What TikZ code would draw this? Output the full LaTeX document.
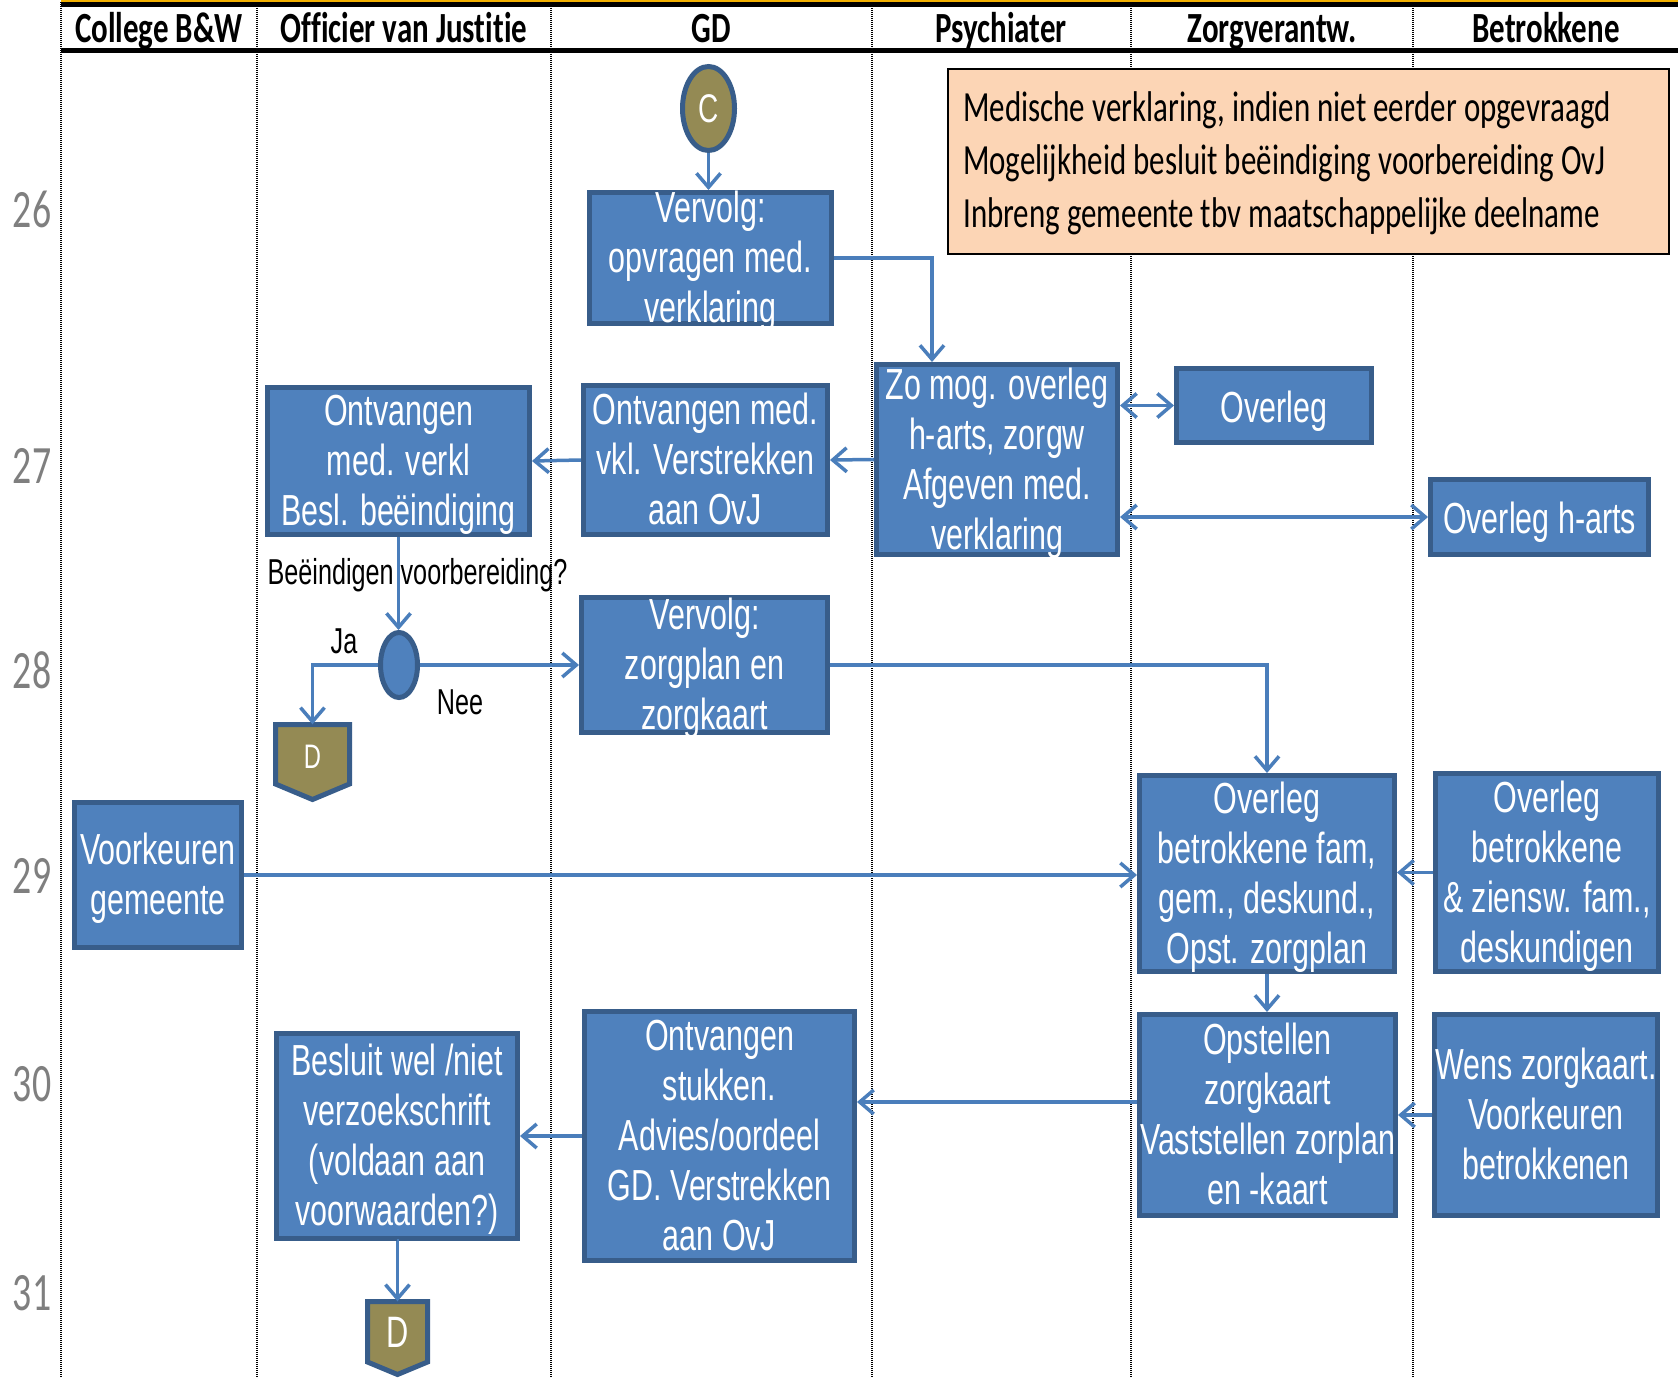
\documentclass[tikz,border=0pt]{standalone}
\usepackage{fontspec}
\usetikzlibrary{arrows.meta,shapes.geometric,calc}
\newfontfamily\bodyf[FakeStretch=0.70]{Liberation Sans}
\newfontfamily\calf[FakeStretch=0.70]{Carlito}
\newfontfamily\notef[FakeStretch=0.72,Ligatures=CommonOff]{Carlito}
\newfontfamily\headf[FakeStretch=0.72,Ligatures=CommonOff]{Carlito}
\definecolor{boxfill}{HTML}{4F81BD}
\definecolor{boxline}{HTML}{385D8A}
\definecolor{conncol}{HTML}{4A7EBB}
\definecolor{olivec}{HTML}{948A54}
\definecolor{peach}{HTML}{FCD5B5}
\definecolor{rownum}{HTML}{7F7F7F}
\definecolor{topor}{HTML}{F2B000}
\newcommand\flowbox[6]{%
 \node[proc, minimum width={#4-#2-5}, minimum height={#5-#3-5}] (#1) at ({(#2+#4)/2},{(#3+#5)/2}) {};
 \node[ptext] (#1-t) at ([yshift=-6.5pt]#1.center) {#6};}
\begin{document}
\begin{tikzpicture}[x=1pt,y=-1pt,
 sep/.style={line width=1.8pt, dash pattern=on 1pt off 1pt},
 proc/.style={draw=boxline, fill=boxfill, line width=5pt, inner sep=0pt, rectangle},
 ptext/.style={text=white, align=center, inner sep=0pt, font=\bodyf\fontsize{43.5}{50}\selectfont, execute at begin node=\strut, execute at end node=\strut},
 hdr/.style={anchor=base, inner sep=0pt, font=\headf\bfseries\fontsize{43}{50}\selectfont},
 rown/.style={text=rownum, inner sep=0pt, font=\calf\fontsize{54}{60}\selectfont},
 lbl/.style={anchor=base, inner sep=0pt, font=\bodyf\fontsize{36}{42}\selectfont},
 conn/.style={draw=conncol, line width=3.5pt, -{Straight Barb[length=14pt,width=24pt]}},
 conntwo/.style={draw=conncol, line width=3.5pt, {Straight Barb[length=14pt,width=24pt]}-{Straight Barb[length=14pt,width=24pt]}},
 olivebox/.style={draw=boxline, fill=olivec, line width=5pt},
 ctext/.style={text=white, inner sep=0pt, font=\bodyf\fontsize{40}{44}\selectfont},
]
\useasboundingbox (0,0) rectangle (1678,1378);
\fill[white] (0,0) rectangle (1678,1378);
% separators
\foreach \xx in {61,257,551,872,1131,1413}{\draw[sep] (\xx,2) -- (\xx,1378);}
% header lines
\draw[topor, line width=2pt] (61,1) -- (1678,1);
\draw[line width=5pt] (61,4.5) -- (1678,4.5);
\draw[line width=5pt] (61,50.5) -- (1678,50.5);
% headers
\node[hdr] (h1) at (159,43) {College B\&W};
\node[hdr] (h2) at (404,43) {Officier van Justitie};
\node[hdr] (h3) at (711,43) {GD};
\node[hdr] (h4) at (1001,43) {Psychiater};
\node[hdr] (h5) at (1272,43) {Zorgverantw.};
\node[hdr] (h6) at (1546,43) {Betrokkene};
% row numbers
\node[rown] (r26) at (32,209) {26};
\node[rown] (r27) at (32,466) {27};
\node[rown] (r28) at (32,670) {28};
\node[rown] (r29) at (32,876) {29};
\node[rown] (r30) at (32,1084) {30};
\node[rown] (r31) at (32,1293) {31};
% note
\node[draw=black, fill=peach, line width=2pt, minimum width=721, minimum height=185, inner sep=0] (note) at (1308.5,161.5) {};
\node[anchor=west, align=left, inner sep=0pt, font=\notef\fontsize{43}{53}\selectfont, execute at begin node=\strut, execute at end node=\strut] (note-t) at (963,168)
 {Medische verklaring, indien niet eerder opgevraagd\\Mogelijkheid besluit beëindiging voorbereiding OvJ\\Inbreng gemeente tbv maatschappelijke deelname};
% start circle
\node[ellipse, olivebox, minimum width=52, minimum height=84, inner sep=0, ctext] (cC) at (708.5,108.5) {C};
% boxes
\flowbox{bopv}{587}{190}{834}{326}{Vervolg:\\opvragen med.\\verklaring}
\flowbox{bzomog}{874}{362}{1120}{557}{Zo mog. overleg\\h-arts, zorgw\\Afgeven med.\\verklaring}
\flowbox{boverleg}{1174}{366}{1374}{445}{Overleg}
\flowbox{bharts}{1428}{477}{1651}{557}{Overleg h-arts}
\flowbox{bontvgd}{581}{383}{830}{537}{Ontvangen med.\\vkl. Verstrekken\\aan OvJ}
\flowbox{bontvovj}{265}{385}{532}{537}{Ontvangen\\med. verkl\\Besl. beëindiging}
\flowbox{bvervzorg}{579}{595}{830}{735}{Vervolg:\\zorgplan en\\zorgkaart}
\flowbox{bovbetr}{1137}{773}{1397}{974}{Overleg\\betrokkene fam,\\gem., deskund.,\\Opst. zorgplan}
\flowbox{bovzien}{1433}{771}{1661}{974}{Overleg\\betrokkene\\\& ziensw. fam.,\\deskundigen}
\flowbox{bvoork}{72}{800}{244}{950}{Voorkeuren\\gemeente}
\flowbox{bopst}{1137}{1012}{1398}{1218}{Opstellen\\zorgkaart\\Vaststellen zorplan\\en -kaart}
\flowbox{bwens}{1432}{1012}{1660}{1218}{Wens zorgkaart.\\Voorkeuren\\betrokkenen}
\flowbox{bstuk}{582}{1009}{857}{1263}{Ontvangen\\stukken.\\Advies/oordeel\\GD. Verstrekken\\aan OvJ}
\flowbox{bbesl}{274}{1031}{520}{1241}{Besluit wel /niet\\verzoekschrift\\(voldaan aan\\voorwaarden?)}
% decision
\node[ellipse, draw=boxline, fill=boxfill, line width=5pt, minimum width=37, minimum height=65, inner sep=0] (dec) at (399,665) {};
% D shapes
\draw[olivebox] (275.5,724.5) -- (349.5,724.5) -- (349.5,784) -- (312.5,799.5) -- (275.5,784) -- cycle;
\node[ctext, font=\bodyf\fontsize{34}{38}\selectfont, minimum width=74, minimum height=65] (d1) at (312.5,757) {D};
\draw[olivebox] (367.5,1301.5) -- (427.5,1301.5) -- (427.5,1362) -- (397.5,1374.5) -- (367.5,1362) -- cycle;
\node[ctext, font=\bodyf\fontsize{44}{48}\selectfont, minimum width=60, minimum height=61] (d2) at (397.5,1332) {D};
% connectors
\draw[conn] (cC.south) -- (cC.south |- bopv.north);
\draw[conn] (bopv.east) -| ([xshift=-65pt]bzomog.north);
\draw[conntwo] (bzomog.east |- boverleg.west) -- (boverleg.west);
\draw[conntwo] (bzomog.east |- bharts.west) -- (bharts.west);
\draw[conn] (bzomog.west) -- (bontvgd.east);
\draw[conn] (bontvgd.west) -- (bontvovj.east);
\draw[conn] (bontvovj.south) -- (bontvovj.south |- dec.north);
\draw[conn] (dec.west) -| (d1.north);
\draw[conn] (dec.east) -- (dec.east -| bvervzorg.west);
\draw[conn] (bvervzorg.east) -| (bovbetr.north);
\draw[conn] (bvoork.east) -- (bvoork.east -| bovbetr.west);
\draw[conn] (bovzien.west) -- (bovzien.west -| bovbetr.east);
\draw[conn] (bovbetr.south) -- (bovbetr.south |- bopst.north);
\draw[conn] (bwens.west) -- (bwens.west -| bopst.east);
\draw[conn] ([yshift=13pt]bopst.west) -- ([yshift=13pt]bopst.west -| bstuk.east);
\draw[conn] (bstuk.west) -- (bstuk.west -| bbesl.east);
\draw[conn] (bbesl.south) -- (bbesl.south -| d2.north) -- (d2.north);
% labels
\node[lbl] (lq) at (417.5,584) {Beëindigen voorbereiding?};
\node[lbl] (lja) at (344,653) {Ja};
\node[lbl] (lnee) at (460,714) {Nee};
\end{tikzpicture}
\end{document}
